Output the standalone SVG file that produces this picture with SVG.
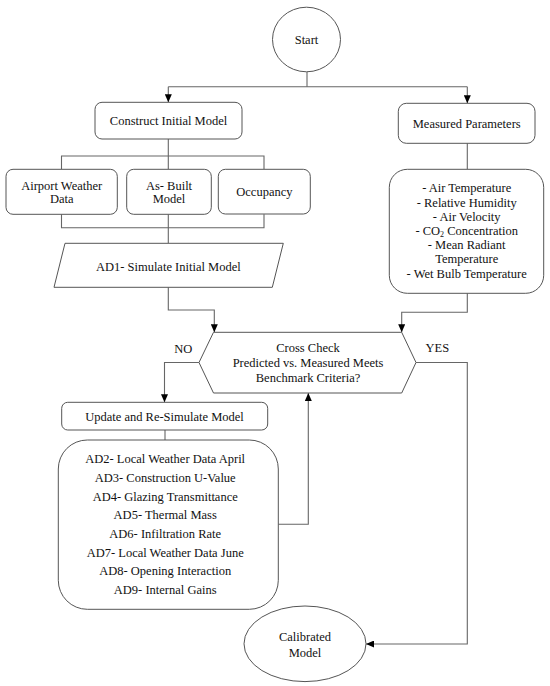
<svg xmlns="http://www.w3.org/2000/svg" width="550" height="686" viewBox="0 0 550 686" font-family="'Liberation Serif', 'Times New Roman', 'DejaVu Serif', serif">
<defs>
<marker id="arr" markerWidth="8" markerHeight="7" refX="8" refY="3.5" orient="auto" markerUnits="userSpaceOnUse">
<path d="M0,0 L8,3.5 L0,7 z" fill="#000"/>
</marker>
<style>
.n{fill:#fff;stroke:#555;stroke-width:1}
.c{fill:none;stroke:#666;stroke-width:1.1}
.a{marker-end:url(#arr)}
.t{font-family:'Liberation Serif','Times New Roman','DejaVu Serif',serif;font-size:12.5px;fill:#111;text-anchor:middle}
</style>
</defs>
<rect width="550" height="686" fill="#fff"/>
<g id="connectors">
<path class="c" d="M307,72 V86.7"/>
<path class="c" d="M168.3,86.7 H467.3"/>
<path class="c a" d="M168.3,86.7 V102.3"/>
<path class="c a" d="M467.3,86.7 V103.3"/>
<path class="c" d="M168.3,139 V156"/>
<path class="c" d="M61.5,169.3 V156 H264 V169.3"/>
<path class="c" d="M168.3,156 V169.3"/>
<path class="c" d="M61.5,214.3 V227.7 H264 V214.3"/>
<path class="c" d="M168.3,214.3 V243.3"/>
<path class="c a" d="M168.3,287.3 V310 H214.3 V332.3"/>
<path class="c" d="M467.3,143.3 V169.3"/>
<path class="c a" d="M467.3,293.3 V312.3 H401.7 V332.3"/>
<path class="c a" d="M199,362.5 H164.5 V402.3"/>
<path class="c" d="M165,430 V440"/>
<path class="c a" d="M278.3,524.3 H308.3 V393"/>
<path class="c a" d="M416,362.5 H467.3 V644 H366"/>
</g>
<g id="start" class="t">
<ellipse class="n" cx="306.5" cy="39.5" rx="34" ry="32.3"/>
<text x="306.5" y="43.8">Start</text>
</g>
<g id="construct" class="t">
<rect class="n" x="95" y="102.3" width="147" height="36.7" rx="7"/>
<text x="168.5" y="125">Construct Initial Model</text>
</g>
<g id="measured" class="t">
<rect class="n" x="398.3" y="103.3" width="136.7" height="40" rx="8"/>
<text x="466.7" y="128.3">Measured Parameters</text>
</g>
<g id="airport" class="t">
<rect class="n" x="6" y="169.3" width="111.3" height="45" rx="7"/>
<text x="61.7" y="189.7">Airport Weather</text>
<text x="61.7" y="203">Data</text>
</g>
<g id="asbuilt" class="t">
<rect class="n" x="126.7" y="169.3" width="84.6" height="45" rx="7"/>
<text x="169" y="189.7">As- Built</text>
<text x="169" y="203">Model</text>
</g>
<g id="occupancy" class="t">
<rect class="n" x="218.3" y="169.3" width="92" height="44.7" rx="7"/>
<text x="264.4" y="196">Occupancy</text>
</g>
<g id="values" class="t">
<rect class="n" x="389.3" y="169.3" width="154.4" height="124" rx="18"/>
<text x="466.7" y="192.3">- Air Temperature</text>
<text x="466.7" y="206.6">- Relative Humidity</text>
<text x="466.7" y="220.8">- Air Velocity</text>
<text x="466.7" y="235">- CO<tspan font-size="8" dy="2.2">2</tspan><tspan dy="-2.2"> Concentration</tspan></text>
<text x="466.7" y="249.2">- Mean Radiant</text>
<text x="466.7" y="263.3">Temperature</text>
<text x="466.7" y="277.5">- Wet Bulb Temperature</text>
</g>
<g id="simulate" class="t">
<polygon class="n" points="65,243.3 283.3,243.3 272.3,287.3 54,287.3"/>
<text x="168.3" y="270.7">AD1- Simulate Initial Model</text>
</g>
<g id="crosscheck" class="t">
<polygon class="n" points="213.5,332.3 401.7,332.3 416,362.5 401.7,393 213.5,393 199,362.5"/>
<text x="308" y="352.3">Cross Check</text>
<text x="308" y="367.3">Predicted vs. Measured Meets</text>
<text x="308" y="382.3">Benchmark Criteria?</text>
</g>
<g id="labels" class="t">
<text x="183.3" y="353.3">NO</text>
<text x="437.3" y="351.7">YES</text>
</g>
<g id="update" class="t">
<rect class="n" x="61.7" y="402.3" width="206" height="27.7" rx="6"/>
<text x="164.5" y="421.3">Update and Re-Simulate Model</text>
</g>
<g id="adlist" class="t">
<rect class="n" x="58.3" y="440" width="220" height="169.3" rx="29"/>
<text x="165.2" y="463.3">AD2- Local Weather Data April</text>
<text x="165.2" y="481.9">AD3- Construction U-Value</text>
<text x="165.2" y="500.6">AD4-  Glazing Transmittance</text>
<text x="165.2" y="519.2">AD5-  Thermal Mass</text>
<text x="165.2" y="537.9">AD6- Infiltration Rate</text>
<text x="165.2" y="556.5">AD7- Local Weather Data June</text>
<text x="165.2" y="575.2">AD8- Opening Interaction</text>
<text x="165.2" y="593.8">AD9- Internal Gains</text>
</g>
<g id="calibrated" class="t">
<ellipse class="n" cx="305" cy="643.8" rx="61" ry="37.8"/>
<text x="305" y="641.3">Calibrated</text>
<text x="305" y="656.7">Model</text>
</g>
</svg>
